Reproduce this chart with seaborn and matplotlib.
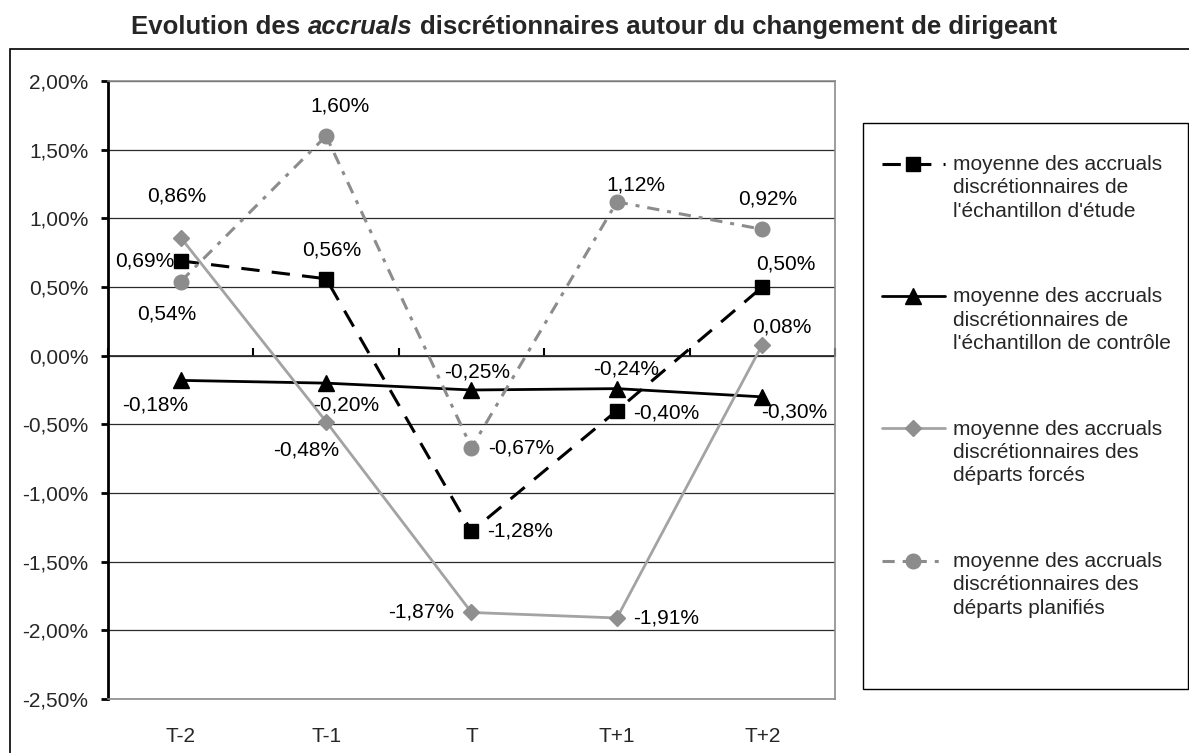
import matplotlib
matplotlib.use("Agg")
import matplotlib.pyplot as plt
import seaborn as sns
import pandas as pd
from matplotlib.ticker import FuncFormatter
from matplotlib.patches import Rectangle

# values (in %)
periods = ["T-2", "T-1", "T", "T+1", "T+2"]
etude = [0.69, 0.56, -1.28, -0.40, 0.50]
controle = [-0.18, -0.20, -0.25, -0.24, -0.30]
forces = [0.86, -0.48, -1.87, -1.91, 0.08]
planifies = [0.54, 1.60, -0.67, 1.12, 0.92]

labels = [
    "moyenne des accruals\ndiscrétionnaires de\nl'échantillon d'étude",
    "moyenne des accruals\ndiscrétionnaires de\nl'échantillon de contrôle",
    "moyenne des accruals\ndiscrétionnaires des\ndéparts forcés",
    "moyenne des accruals\ndiscrétionnaires des\ndéparts planifiés",
]

W, H = 1189, 753
FS = 15


def fmt_pct(v):
    return f"{v:.2f}%".replace(".", ",")


sns.set_theme(style="white")
plt.rcParams["font.family"] = ["Liberation Sans", "DejaVu Sans"]

fig = plt.figure(figsize=(W / 100, H / 100), dpi=100)
ax = fig.add_axes([108 / W, 1 - 699 / H, (835 - 108) / W, (699 - 81) / H])

# line styles per series
styles = [
    dict(color="black", lw=2.2, linestyle=(0, (6, 4)), marker="s", ms=10,
         mfc="black", mec="black"),
    dict(color="black", lw=2.0, linestyle="-", marker="^", ms=12,
         mfc="black", mec="black"),
    dict(color="#a3a3a3", lw=2.0, linestyle="-", marker="D", ms=8,
         mfc="#8f8f8f", mec="#8f8f8f"),
    dict(color="#8c8c8c", lw=2.2, linestyle=(0, (4, 2.6, 1.3, 2.6)), marker="o", ms=10.5,
         mfc="#8c8c8c", mec="#8c8c8c"),
]

# data label offsets in pixels (dx, dy downwards, alignment)
label_pos = [
    [(-6, 0, "right"), (6, -29, "center"), (16, 0, "left"), (16, 2, "left"), (24, -23, "center")],
    [(-26, 25, "center"), (20, 22, "center"), (6, -18, "center"), (9, -20, "center"), (32, 15, "center")],
    [(-4, -42, "center"), (-20, 28, "center"), (-17, 0, "right"), (16, 0, "left"), (20, -18, "center")],
    [(-14, 32, "center"), (14, -30, "center"), (17, 0, "left"), (19, -17, "center"), (5, -30, "center")],
]

all_series = [etude, controle, forces, planifies]
handles = []
for vals, st, lp, lab in zip(all_series, styles, label_pos, labels):
    df = pd.DataFrame({"period": periods, "value": vals})
    sns.lineplot(data=df, x="period", y="value", sort=False, ax=ax,
                 markeredgewidth=1, zorder=3, **st)
    handles.append(ax.lines[-1])
    for i, v in enumerate(vals):
        dx, dy, ha = lp[i]
        ax.annotate(fmt_pct(v), (i, v), xytext=(dx, -dy), textcoords="offset pixels",
                    ha=ha, va="center", fontsize=FS, color="black", zorder=4)

ax.set_xlim(-0.5, 4.5)
ax.set_ylim(-2.5, 2.0)
ax.set_yticks([-2.5, -2.0, -1.5, -1.0, -0.5, 0.0, 0.5, 1.0, 1.5, 2.0])
ax.yaxis.set_major_formatter(FuncFormatter(lambda v, _: fmt_pct(v)))
ax.set_xlabel("")
ax.set_ylabel("")

ax.yaxis.grid(True, color="#2a2a2a", lw=0.9)
ax.xaxis.grid(False)
for side in ["top", "right", "bottom"]:
    ax.spines[side].set_color("#8c8c8c")
    ax.spines[side].set_linewidth(1.2)
ax.spines["left"].set_color("black")
ax.spines["left"].set_linewidth(2)
ax.tick_params(axis="y", direction="out", length=5, width=2, color="black",
               labelsize=FS, pad=9, left=True)
ax.tick_params(axis="x", length=0, labelsize=FS, pad=20)

# horizontal axis crossing at zero with tick marks between categories
zero_frac = (0 - (-2.5)) / 4.5
sec = ax.secondary_xaxis(zero_frac)
sec.set_xticks([-0.5, 0.5, 1.5, 2.5, 3.5, 4.5])
sec.set_xticklabels([])
sec.spines["bottom"].set_linewidth(2.2)
sec.spines["bottom"].set_color("black")
sec.tick_params(axis="x", direction="out", length=6, width=1.5, color="black")

# legend
leg = ax.legend(handles, labels, loc="upper left",
                bbox_to_anchor=(882 / W, 1 - 155 / H), bbox_transform=fig.transFigure,
                frameon=False, fontsize=FS, handlelength=3.0, handleheight=1.1,
                handletextpad=0.4, borderpad=0, borderaxespad=0, labelspacing=3.2)
for t in leg.get_texts():
    t.set_linespacing(1.29)
for col in leg._legend_handle_box.get_children():
    for item in col.get_children():
        item.align = "top"

fig.add_artist(Rectangle((863 / W, 1 - 689 / H), (1188 - 863) / W, (689 - 123) / H,
                         transform=fig.transFigure, fill=False, ec="black", lw=1))
fig.add_artist(Rectangle((10 / W, -0.02), 1.05, 1 - 49 / H + 0.02,
                         transform=fig.transFigure, fill=False, ec="black", lw=1.2))

# title with italic word
renderer = fig.canvas.get_renderer()
parts = [("Evolution des", "normal"), ("accruals", "italic"),
         ("discrétionnaires autour du changement de dirigeant", "normal")]
title_fs = 18.5
space = 0.278 * title_fs * 100 / 72
texts = [fig.text(0, 1 - 27 / H, p, fontsize=title_fs, fontweight="bold", style=s,
                  ha="left", va="center") for p, s in parts]
widths = [t.get_window_extent(renderer).width for t in texts]
total = sum(widths) + space * (len(parts) - 1)
x = 594 - total / 2
for t, w in zip(texts, widths):
    t.set_x(x / W)
    x += w + space

fig.savefig("out.png", dpi=100)
